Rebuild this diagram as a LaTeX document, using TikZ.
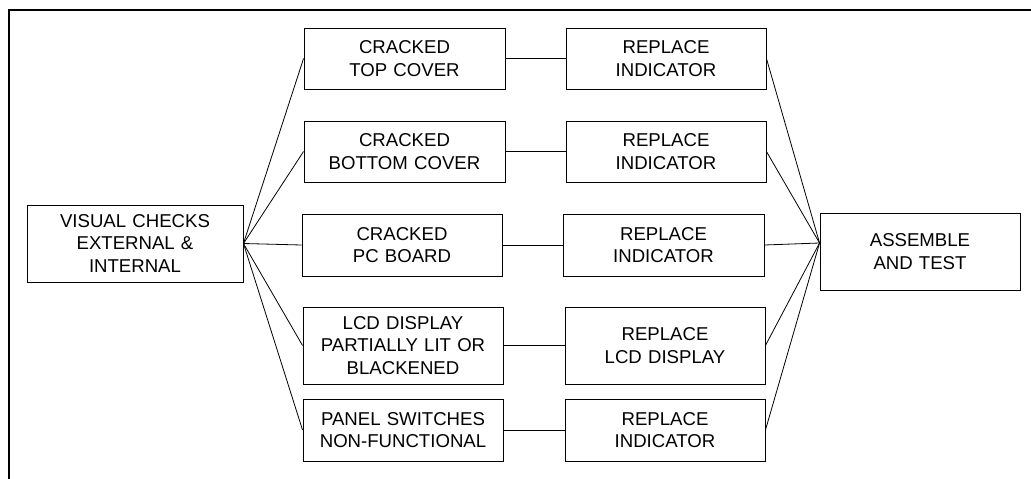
\documentclass[tikz,border=0pt]{standalone}
\usepackage{fontspec}
\setmainfont{Liberation Sans}
\begin{document}
\begin{tikzpicture}[x=1pt,y=-1pt,
  box/.style={draw,line width=0.9pt,rectangle,inner sep=0pt,align=center,
    font=\fontsize{18.6}{22.7}\selectfont,text width=#1,minimum width=#1},
  box/.default=200pt,
  link/.style={line width=0.8pt}]
\useasboundingbox (0,0) rectangle (1031,479);
\draw[line width=2.2pt] (9,481) -- (9,10) -- (1033,10);
\node[box=216pt,minimum height=77pt] (L) at (135,243.5) {VISUAL CHECKS\\EXTERNAL \&\\INTERNAL};
\node[box=201pt,minimum height=61pt] (M1) at (404.5,58.5) {CRACKED\\TOP COVER};
\node[box=201pt,minimum height=61pt] (M2) at (404.5,151.5) {CRACKED\\BOTTOM COVER};
\node[box=200pt,minimum height=62pt] (M3) at (402,245) {CRACKED\\PC BOARD};
\node[box=200pt,minimum height=77pt] (M4) at (403,345.5) {LCD DISPLAY\\PARTIALLY LIT OR\\BLACKENED};
\node[box=200pt,minimum height=62pt] (M5) at (403,430) {PANEL SWITCHES\\NON-FUNCTIONAL};
\node[box=200pt,minimum height=61pt] (R1) at (666,58.5) {REPLACE\\INDICATOR};
\node[box=200pt,minimum height=61pt] (R2) at (666,151.5) {REPLACE\\INDICATOR};
\node[box=201pt,minimum height=62pt] (R3) at (663.5,245) {REPLACE\\INDICATOR};
\node[box=200pt,minimum height=77pt] (R4) at (665,345.5) {REPLACE\\LCD DISPLAY};
\node[box=200pt,minimum height=62pt] (R5) at (665,430) {REPLACE\\INDICATOR};
\node[box=200pt,minimum height=77pt] (A) at (920,251.5) {ASSEMBLE\\AND TEST};
\coordinate (Ain) at ([yshift=8.5pt]A.west);
\foreach \i in {1,...,5} {
  \draw[link] (L.east) -- (M\i.west);
  \draw[link] (M\i.east) -- (R\i.west);
  \draw[link] (R\i.east) -- (Ain);
}
\end{tikzpicture}
\end{document}
